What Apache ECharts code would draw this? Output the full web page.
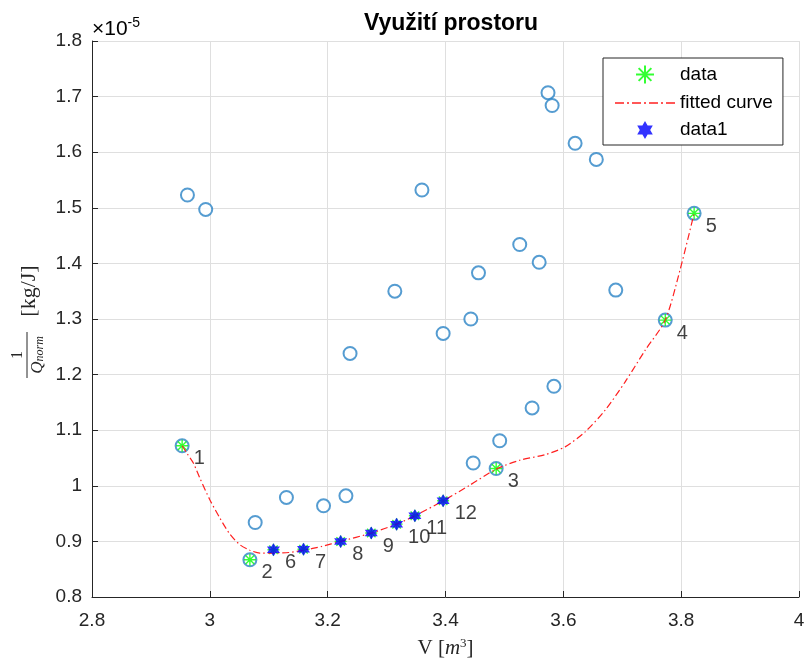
<!DOCTYPE html>
<html>
<head>
<meta charset="utf-8">
<script src="https://cdn.jsdelivr.net/npm/echarts@6/dist/echarts.min.js"></script>
<style>html,body{margin:0;padding:0;background:#fff}#c{width:807px;height:661px}</style>
</head>
<body>
<div id="c"></div>
<script>
// ---- data (y values in units of 1e-5) ----
const circleX = [2.962, 2.993, 3.077, 3.130, 3.193, 3.231, 3.238, 3.314, 3.360, 3.396, 3.443, 3.456, 3.447, 3.492, 3.526, 3.547, 3.559, 3.574, 3.581, 3.584, 3.620, 3.656, 3.689,
                 2.953, 3.068, 3.486, 3.773, 3.822];
const circleY = [1.523, 1.497, 0.934, 0.979, 0.964, 0.982, 1.238, 1.350, 1.532, 1.274, 1.300, 1.383, 1.041, 1.081, 1.434, 1.140, 1.402, 1.707, 1.684, 1.179, 1.616, 1.587, 1.352,
                 1.072, 0.867, 1.031, 1.298, 1.490];
const dataX = [2.953, 3.068, 3.486, 3.773, 3.822, 3.108, 3.159, 3.222, 3.274, 3.317, 3.348, 3.396];
const dataY = [1.072, 0.867, 1.031, 1.298, 1.490, 0.885, 0.886, 0.900, 0.915, 0.931, 0.946, 0.973];
const dataLabels = ['1','2','3','4','5','6','7','8','9','10','11','12'];
const data1X = [3.108, 3.159, 3.222, 3.274, 3.317, 3.348, 3.396];
const data1Y = [0.885, 0.886, 0.900, 0.915, 0.931, 0.946, 0.973];
const curveX = [2.953, 2.962, 2.972, 2.983, 3.000, 3.017, 3.034, 3.051, 3.068, 3.085, 3.108, 3.134, 3.159, 3.190, 3.222, 3.274, 3.317, 3.348, 3.396, 3.441, 3.486, 3.526, 3.569, 3.603, 3.637, 3.671, 3.705, 3.739, 3.773, 3.798, 3.822];
const curveY = [1.072, 1.057, 1.041, 1.014, 0.975, 0.942, 0.913, 0.894, 0.884, 0.879, 0.879, 0.880, 0.884, 0.891, 0.900, 0.915, 0.931, 0.946, 0.973, 1.001, 1.030, 1.046, 1.056, 1.070, 1.097, 1.136, 1.187, 1.244, 1.298, 1.388, 1.490];
const xTicks = {min: 2.8, max: 4, step: 0.2};
const yTicks = {min: 0.8, max: 1.8, step: 0.1};
const legendNames = ['data', 'fitted curve', 'data1'];

const zip = (xs, ys) => xs.map((x, i) => [x, ys[i]]);
const AST = 'path://M0,-10L0,10M-10,0L10,0M-7.07,-7.07L7.07,7.07M-7.07,7.07L7.07,-7.07';
const HEX = 'path://M0,-10L2.887,-5L8.66,-5L5.774,0L8.66,5L2.887,5L0,10L-2.887,5L-8.66,5L-5.774,0L-8.66,-5L-2.887,-5Z';
const DASHDOT = 'path://M0,0H9V1.3H0Z M12,0H14V1.3H12Z M17,0H26V1.3H17Z M29,0H31V1.3H29Z M34,0H43V1.3H34Z M46,0H48V1.3H46Z M51,0H60V1.3H51Z';
const SANS = 'Liberation Sans, Arial, Helvetica, sans-serif';
const SERIF = 'Liberation Serif, DejaVu Serif, serif';
const TXT = '#262626';

const chart = echarts.init(document.getElementById('c'), null, {renderer: 'canvas'});
chart.setOption({
  backgroundColor: '#fff',
  animation: false,
  title: {
    text: 'Využití prostoru', left: 446, top: 7, textAlign: 'center',
    textStyle: {fontFamily: SANS, fontWeight: 'bold', fontSize: 23, color: '#000'}
  },
  grid: {left: 92, top: 41, width: 707, height: 556, containLabel: false, outerBoundsMode: 'none'},
  legend: {
    data: legendNames.map(n => n === 'fitted curve' ? {name: n, icon: DASHDOT} : {name: n}),
    orient: 'vertical', left: 603, top: 58,
    padding: [5, 10, 5, 12], itemGap: 7, itemWidth: 60, itemHeight: 18,
    backgroundColor: '#fff', borderColor: TXT, borderWidth: 1,
    textStyle: {fontFamily: SANS, fontSize: 19, lineHeight: 20, color: '#000'},
    selectedMode: false
  },
  xAxis: {
    type: 'value', min: xTicks.min, max: xTicks.max, interval: xTicks.step,
    name: '{r|V }{r|[}{i|m}{s|3}{r|]}', nameLocation: 'middle', nameGap: 40,
    nameTextStyle: {rich: {
      r: {fontFamily: SERIF, fontSize: 21, color: TXT},
      i: {fontFamily: SERIF, fontStyle: 'italic', fontSize: 21, color: TXT},
      s: {fontFamily: SERIF, fontSize: 13, color: TXT, verticalAlign: 'top', padding: [0, 0, 10, 0]}
    }},
    axisLine: {onZero: false, lineStyle: {color: TXT, width: 1}},
    axisTick: {inside: true, length: 6, lineStyle: {color: TXT}},
    axisLabel: {margin: 14, fontFamily: SANS, fontSize: 19, color: TXT, formatter: v => String(+v.toFixed(1))},
    splitLine: {show: true, lineStyle: {color: '#dfdfdf', width: 1}}
  },
  yAxis: {
    type: 'value', min: yTicks.min, max: yTicks.max, interval: yTicks.step,
    axisLine: {show: true, onZero: false, lineStyle: {color: TXT, width: 1}},
    axisTick: {show: true, inside: true, length: 6, lineStyle: {color: TXT}},
    axisLabel: {margin: 10, fontFamily: SANS, fontSize: 19, color: TXT, formatter: v => String(+v.toFixed(1))},
    splitLine: {show: true, lineStyle: {color: '#dfdfdf', width: 1}}
  },
  series: [
    {
      name: 'circles', type: 'scatter', data: zip(circleX, circleY),
      symbol: 'emptyCircle', symbolSize: 13,
      itemStyle: {color: '#2b83c6', borderColor: '#2b83c6', borderWidth: 1.3},
      z: 2
    },
    {
      name: 'data', type: 'scatter', data: zip(dataX, dataY),
      symbol: AST, symbolSize: 12,
      itemStyle: {color: 'none', borderColor: '#00ff00', borderWidth: 1.4},
      label: {
        show: true, position: 'right', distance: 3, offset: [0, 13],
        formatter: p => dataLabels[p.dataIndex],
        fontFamily: SANS, fontSize: 20, color: '#111'
      },
      z: 3
    },
    {
      name: 'fitted curve', type: 'line', data: zip(curveX, curveY),
      smooth: 0.25, showSymbol: false, symbol: 'none',
      lineStyle: {color: '#ff2020', width: 1.2, type: [7, 3, 1.5, 3]},
      itemStyle: {color: '#ff2020'},
      z: 4
    },
    {
      name: 'data1', type: 'scatter', data: zip(data1X, data1Y),
      symbol: HEX, symbolSize: 13,
      itemStyle: {color: '#0000ff'},
      z: 5
    }
  ],
  graphic: [
    {
      type: 'text', left: 92, top: 16,
      style: {
        text: '{a|×10}{b|-5}',
        rich: {
          a: {fontFamily: SANS, fontSize: 21, color: TXT},
          b: {fontFamily: SANS, fontSize: 14, color: TXT, verticalAlign: 'top', padding: [0, 0, 12, 0]}
        }
      }
    },
    {
      type: 'group', x: 29, y: 322, rotation: Math.PI / 2,
      children: [
        {type: 'text', x: -33, y: -3, style: {text: '1', font: '16px ' + SERIF, fill: TXT, align: 'center', verticalAlign: 'bottom'}},
        {type: 'line', shape: {x1: -56, y1: -2, x2: -10, y2: -2}, style: {stroke: TXT, lineWidth: 1}},
        {type: 'text', x: -33, y: 0, style: {
          text: '{q|Q}{n|norm}', align: 'center', verticalAlign: 'top',
          rich: {
            q: {fontFamily: SERIF, fontStyle: 'italic', fontSize: 17, fill: TXT},
            n: {fontFamily: SERIF, fontStyle: 'italic', fontSize: 12, fill: TXT, verticalAlign: 'bottom'}
          }
        }},
        {type: 'text', x: 31, y: 0, style: {text: '[kg/J]', font: '22px ' + SERIF, fill: TXT, align: 'center', verticalAlign: 'middle'}}
      ]
    }
  ]
});
</script>
</body>
</html>
